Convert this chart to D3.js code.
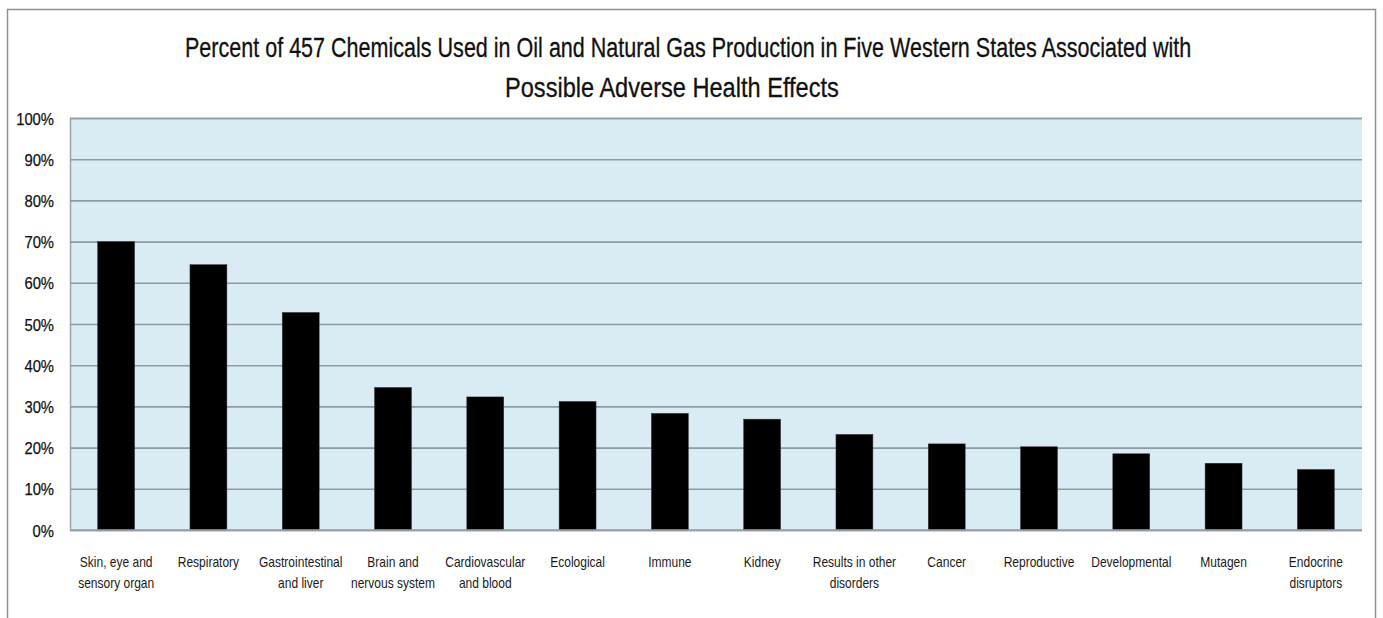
<!DOCTYPE html>
<html>
<head>
<meta charset="utf-8">
<script src="https://cdn.jsdelivr.net/npm/d3@7"></script>
<style>
  html, body { margin: 0; padding: 0; background: #fff; }
  svg { display: block; }
  text { font-family: "Liberation Sans", Arial, sans-serif; }
</style>
</head>
<body>
<svg id="chart" width="1383" height="618"></svg>
<script>
const titleLines = [
  "Percent of 457 Chemicals Used in Oil and Natural Gas Production in Five Western States Associated with",
  "Possible Adverse Health Effects"
];
const categories = [
  "Skin, eye and\nsensory organ", "Respiratory", "Gastrointestinal\nand liver", "Brain and\nnervous system",
  "Cardiovascular\nand blood", "Ecological", "Immune", "Kidney", "Results in other\ndisorders",
  "Cancer", "Reproductive", "Developmental", "Mutagen", "Endocrine\ndisruptors"
];
const values = [70.0, 64.4, 52.8, 34.6, 32.3, 31.2, 28.3, 26.9, 23.2, 20.9, 20.2, 18.5, 16.2, 14.7];
const yTicks = [0, 10, 20, 30, 40, 50, 60, 70, 80, 90, 100];

const svg = d3.select("#chart");
const plot = { left: 70, top: 118, right: 1362, bottom: 530 };

// horizontally condense text to mimic a narrow face
function condense(nodes, sx) {
  nodes.each(function() {
    const len = this.getComputedTextLength();
    d3.select(this).attr("textLength", len * sx).attr("lengthAdjust", "spacingAndGlyphs");
  });
}

// outer frame
svg.append("rect").attr("x", 7.5).attr("y", 9.5).attr("width", 1368).attr("height", 640)
  .attr("fill", "#fff").attr("stroke", "#8f8f8f").attr("stroke-width", 1.5);

const x = d3.scaleBand().domain(categories).range([plot.left, plot.right])
  .paddingInner(0.6).paddingOuter(0.3);
const y = d3.scaleLinear().domain([0, 100]).range([plot.bottom, plot.top]);

// plot background
svg.append("rect").attr("x", plot.left).attr("y", plot.top)
  .attr("width", plot.right - plot.left).attr("height", plot.bottom - plot.top)
  .attr("fill", "#daecf3");

// y axis with gridlines
const yAxis = svg.append("g").attr("transform", `translate(${plot.left},0)`)
  .call(d3.axisLeft(y).tickValues(yTicks).tickFormat(d => d + "%")
    .tickSize(-(plot.right - plot.left)).tickPadding(16));
yAxis.select(".domain").attr("stroke", "#9aa3a8").attr("stroke-width", 1.5);
yAxis.selectAll(".tick line").attr("stroke", "#8d9ba3").attr("stroke-width", 1.6);
const yt = yAxis.selectAll(".tick text").attr("fill", "#111").attr("font-size", 17)
  .attr("font-family", "'Liberation Sans', sans-serif").attr("dy", 6)
  .attr("stroke", "#111").attr("stroke-width", 0.25);
condense(yt, 0.87);

// bars
svg.append("g").selectAll("rect").data(values).join("rect")
  .attr("x", (d, i) => x(categories[i]))
  .attr("width", x.bandwidth())
  .attr("y", d => y(d))
  .attr("height", d => y(0) - y(d))
  .attr("fill", "#000")
  .attr("stroke", "#333").attr("stroke-width", 0.5);

// bottom axis line
svg.append("line").attr("x1", plot.left).attr("x2", plot.right)
  .attr("y1", y(0)).attr("y2", y(0)).attr("stroke", "#9aa3a8").attr("stroke-width", 1.6);

// x labels
const xAxis = svg.append("g").attr("transform", `translate(0,${plot.bottom})`)
  .call(d3.axisBottom(x).tickSize(0).tickFormat(""));
xAxis.select(".domain").remove();
xAxis.selectAll(".tick").each(function(d) {
  const lines = d.split("\n");
  const t = d3.select(this).append("text")
    .attr("fill", "#1a1a1a").attr("font-size", 15).attr("text-anchor", "middle");
  lines.forEach((ln, k) => {
    t.append("tspan").attr("x", 0).attr("y", 37 + k * 21).text(ln);
  });
});
condense(xAxis.selectAll("tspan"), 0.8);

// title (condensed via horizontal scale)
const titleX = [185, 505], titleW = [1007, 334];
svg.append("g").selectAll("text").data(titleLines).join("text")
  .attr("font-size", 27.5).attr("fill", "#111")
  .attr("stroke", "#111").attr("stroke-width", 0.3)
  .text(d => d)
  .each(function(d, i) {
    const len = this.getComputedTextLength();
    const sx = titleW[i] / len;
    d3.select(this).attr("transform", `translate(${titleX[i]},${57 + i * 39.5}) scale(${sx},1)`);
  });
</script>
</body>
</html>
